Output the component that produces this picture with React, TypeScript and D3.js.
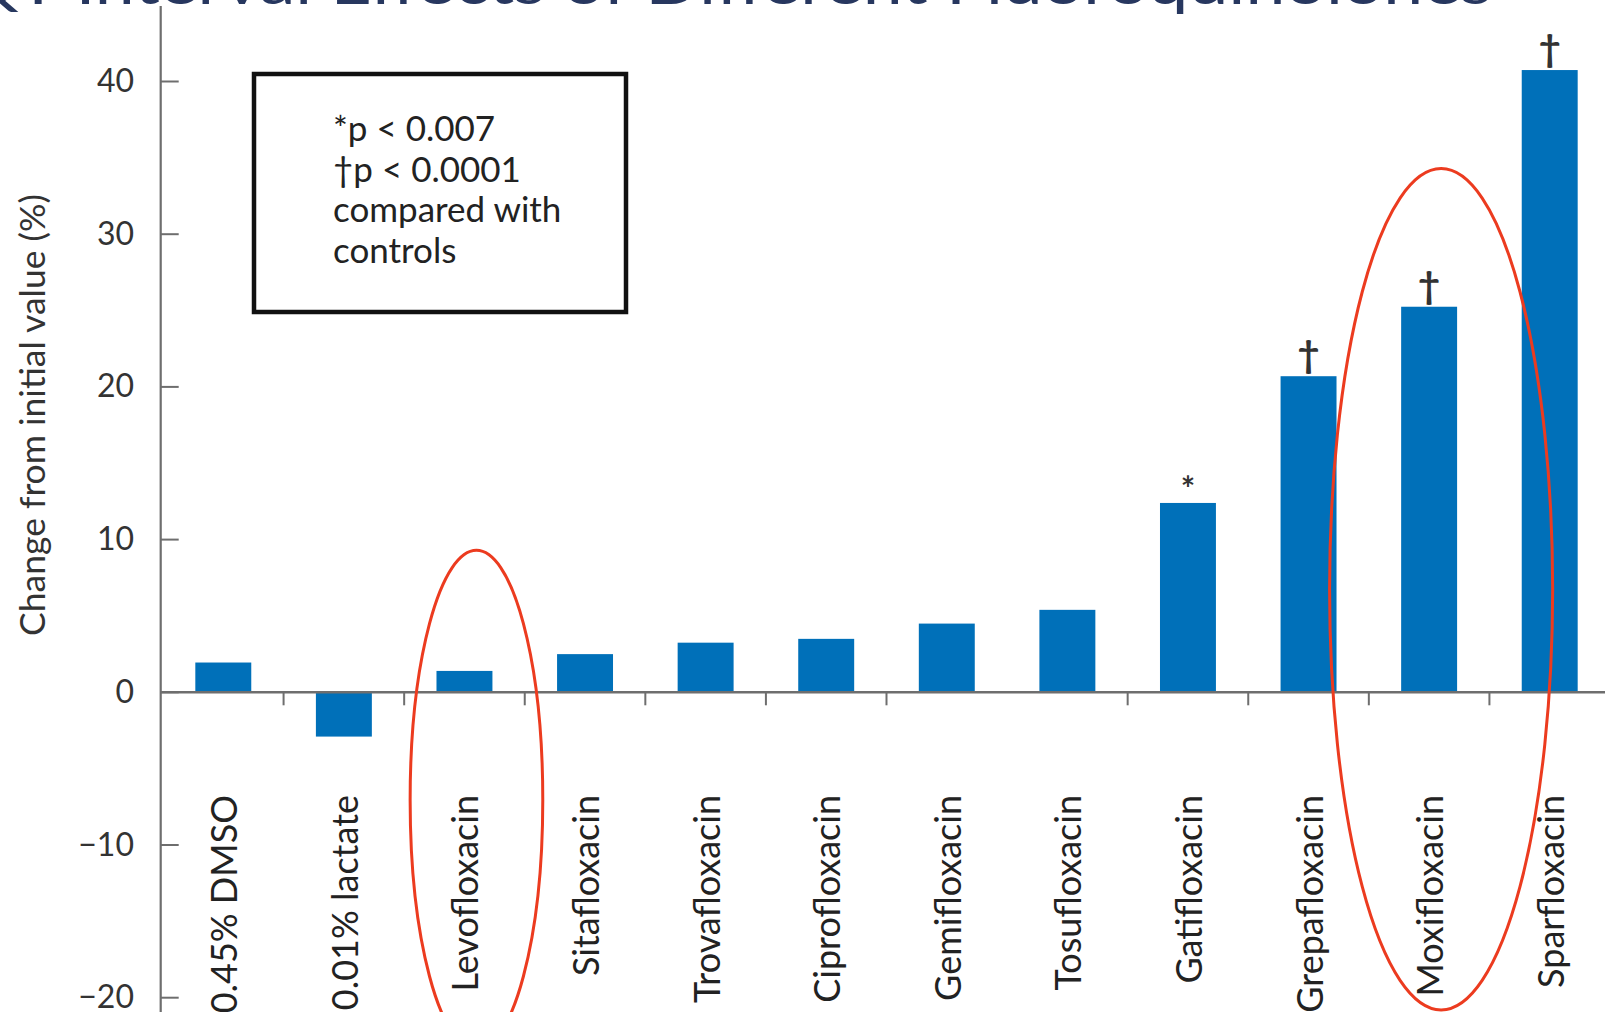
import React from 'react';
import * as d3 from 'd3';

const title = 'QT Interval Effects of Different Fluoroquinolones';
const yLabel = 'Change from initial value (%)';
const categories = [
  '0.45% DMSO', '0.01% lactate', 'Levofloxacin', 'Sitafloxacin', 'Trovafloxacin', 'Ciprofloxacin',
  'Gemifloxacin', 'Tosufloxacin', 'Gatifloxacin', 'Grepafloxacin', 'Moxifloxacin', 'Sparfloxacin',
];
const values = [1.95, -2.9, 1.4, 2.5, 3.25, 3.5, 4.5, 5.4, 12.4, 20.7, 25.25, 40.75];
const markers = ['', '', '', '', '', '', '', '', '*', '†', '†', '†'];
const yTicks = [-20, -10, 0, 10, 20, 30, 40];
const legendLines = ['*p < 0.007', '†p < 0.0001', 'compared with', 'controls'];
const highlights = [
  { category: 'Levofloxacin', top: 9.3, bottom: -23.4, halfWidth: 0.55 },
  { category: 'Moxifloxacin', top: 34.3, bottom: -20.8, halfWidth: 0.925 },
];
const missingTickBoundary = 7;

const W = 1605;
const H = 1012;
const FONT = 'Lato, "Open Sans", sans-serif';
const BLUE = '#0070b9';
const AXIS = '#6e6e6e';

export default function App() {
  const x = d3.scaleBand<string>().domain(categories).range([163, 1610]);
  const y = d3.scaleLinear().domain([-20, 40]).range([997.7, 81.5]);
  const step = x.bandwidth();
  const barW = step * 0.464;
  const axisX = 160.7;
  const fmt = (v: number) => (v < 0 ? '\u2212' + Math.abs(v) : String(v));

  return (
    <svg width={W} height={H} style={{ position: 'absolute', left: 0, top: 0, background: '#fff' }}>
      <rect x={0} y={0} width={W} height={H} fill="#fff" />
      {/* title (cut off at top) */}
      <text x={-38} y={4} fontFamily={FONT} fontSize={58} fill="#27375f" textLength={1530} lengthAdjust="spacingAndGlyphs">
        {title}
      </text>

      {/* y axis label */}
      <text
        transform={`translate(31,${415}) rotate(-90)`}
        textAnchor="middle"
        dominantBaseline="central"
        fontFamily={FONT}
        fontSize={35.5}
        fill="#333"
      >
        {yLabel}
      </text>

      {/* bars */}
      {categories.map((c, i) => {
        const v = values[i];
        const x0 = (x(c) as number) + (step - barW) / 2;
        return (
          <rect key={c} x={x0} y={y(Math.max(0, v))} width={barW} height={Math.abs(y(v) - y(0))} fill={BLUE} />
        );
      })}

      {/* significance markers */}
      {categories.map((c, i) =>
        markers[i] ? (
          <text
            key={'m' + c}
            x={(x(c) as number) + step / 2}
            y={y(values[i]) - (markers[i] === '*' ? 2 : 8)}
            textAnchor="middle"
            fontFamily={FONT}
            fontSize={markers[i] === '*' ? 34 : 38}
            fontWeight={700}
            fill="#333"
          >
            {markers[i]}
          </text>
        ) : null
      )}

      {/* y axis */}
      <line x1={axisX} x2={axisX} y1={6} y2={H} stroke={AXIS} strokeWidth={2.2} />
      {yTicks.map((t) => (
        <g key={t}>
          <line x1={axisX} x2={axisX + 18} y1={y(t)} y2={y(t)} stroke={AXIS} strokeWidth={2} />
          <text x={134} y={y(t) - 2} textAnchor="end" dominantBaseline="central" fontFamily={FONT} fontSize={32} fill="#333">
            {fmt(t)}
          </text>
        </g>
      ))}

      {/* x axis */}
      <line x1={axisX} x2={W} y1={y(0)} y2={y(0)} stroke={AXIS} strokeWidth={2.5} />
      {categories.map((c, i) =>
        i > 0 && i !== missingTickBoundary ? (
          <line key={'t' + c} x1={x(c) as number} x2={x(c) as number} y1={y(0)} y2={y(0) + 13} stroke={AXIS} strokeWidth={2} />
        ) : null
      )}
      {categories.map((c) => (
        <text
          key={'l' + c}
          transform={`translate(${(x(c) as number) + step / 2},795) rotate(-90)`}
          textAnchor="end"
          dominantBaseline="central"
          fontFamily={FONT}
          fontSize={36}
          fill="#222"
        >
          {c}
        </text>
      ))}

      {/* legend box */}
      <rect x={254} y={74} width={372} height={238} fill="#fff" stroke="#111" strokeWidth={4.5} />
      {legendLines.map((l, i) => (
        <text key={l} x={333} y={141 + i * 40.5} fontFamily={FONT} fontSize={35} fill="#222">
          {l}
        </text>
      ))}

      {/* red highlight ellipses */}
      {highlights.map((h) => {
        const cx = (x(h.category) as number) + step / 2 + 12;
        const cy = (y(h.top) + y(h.bottom)) / 2;
        const ry = (y(h.bottom) - y(h.top)) / 2;
        return (
          <ellipse key={h.category} cx={cx} cy={cy} rx={step * h.halfWidth} ry={ry} fill="none" stroke="#ec3b1f" strokeWidth={3} />
        );
      })}
    </svg>
  );
}
